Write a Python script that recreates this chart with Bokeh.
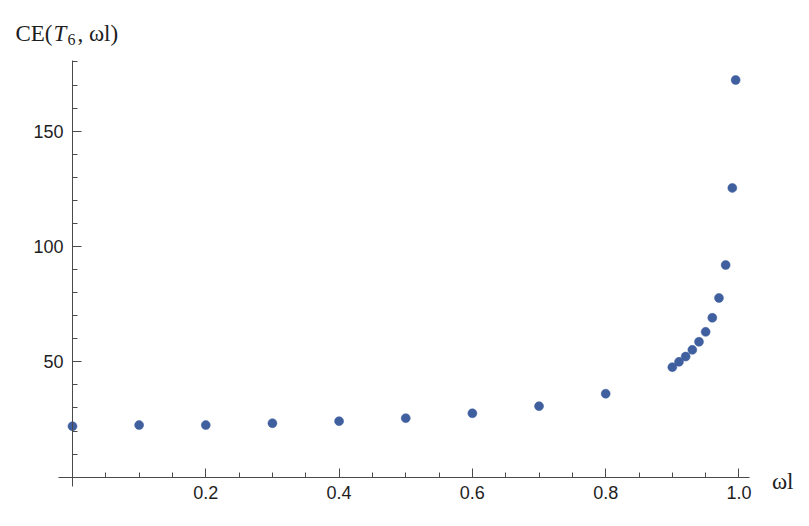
from bokeh.plotting import figure
from bokeh.models import FixedTicker, Label, Range1d
from bokeh.embed import file_html
from bokeh.resources import INLINE

# ---- data ----
omega_l = [0.0, 0.1, 0.2, 0.3, 0.4, 0.5, 0.6, 0.7, 0.8,
           0.9, 0.91, 0.92, 0.93, 0.94, 0.95, 0.96, 0.97, 0.98, 0.99, 0.995]
ce_t6 = [22.1, 22.6, 22.6, 23.4, 24.3, 25.6, 27.7, 30.8, 36.2,
         47.7, 50.0, 52.3, 55.2, 58.7, 63.0, 69.1, 77.7, 92.0, 125.4, 172.2]

x_ticks = [0.2, 0.4, 0.6, 0.8, 1.0]
x_tick_labels = ["0.2", "0.4", "0.6", "0.8", "1.0"]
x_minor_ticks = [0.05, 0.1, 0.15, 0.25, 0.3, 0.35, 0.45, 0.5, 0.55,
                 0.65, 0.7, 0.75, 0.85, 0.9, 0.95]
y_ticks = [50, 100, 150]
y_tick_labels = ["50", "100", "150"]
y_minor_ticks = [10, 20, 30, 40, 60, 70, 80, 90, 110, 120, 130, 140,
                 160, 170, 180]

x_axis_label = "ωl"
y_label_parts = ["CE(", "T", "6", ", ωl)"]

# plot region (axes extents) and the surrounding view
X_AXIS_BOUNDS = (-0.021, 1.0165)
Y_AXIS_BOUNDS = (-3.9, 180.6)
X_VIEW = (-0.1080, 1.0923)
Y_VIEW = (-17.04, 206.66)

POINT_COLOR = "#3f5f9e"
AXIS_COLOR = "#4a4a4a"
LABEL_COLOR = "#1e1e1e"

p = figure(width=800, height=516,
           x_range=Range1d(*X_VIEW), y_range=Range1d(*Y_VIEW),
           output_backend="svg", toolbar_location=None,
           min_border=0, min_border_left=0, min_border_right=0,
           min_border_top=0, min_border_bottom=0)

p.grid.visible = False
p.outline_line_color = None
p.background_fill_color = "white"
p.border_fill_color = "white"

p.xaxis.fixed_location = 0
p.yaxis.fixed_location = 0
p.xaxis.bounds = X_AXIS_BOUNDS
p.yaxis.bounds = Y_AXIS_BOUNDS

p.xaxis.ticker = FixedTicker(ticks=x_ticks, minor_ticks=x_minor_ticks)
p.yaxis.ticker = FixedTicker(ticks=y_ticks, minor_ticks=y_minor_ticks)
p.xaxis.major_label_overrides = dict(zip(x_ticks, x_tick_labels))
p.yaxis.major_label_overrides = dict(zip(y_ticks, y_tick_labels))

for ax in (p.xaxis[0], p.yaxis[0]):
    ax.axis_line_color = AXIS_COLOR
    ax.axis_line_width = 1
    ax.major_tick_line_color = AXIS_COLOR
    ax.minor_tick_line_color = AXIS_COLOR
    ax.major_tick_in = 9
    ax.major_tick_out = 0
    ax.minor_tick_in = 5
    ax.minor_tick_out = 0
    ax.major_label_text_font = "Liberation Sans"
    ax.major_label_text_font_size = "18px"
    ax.major_label_text_color = LABEL_COLOR

p.xaxis.major_label_standoff = 9
p.yaxis.major_label_standoff = 9

p.scatter(omega_l, ce_t6, size=9, fill_color=POINT_COLOR,
          line_color=POINT_COLOR, line_width=0.5)

SERIF = "Liberation Serif"

# x axis label at the right end of the axis
p.add_layout(Label(x=X_AXIS_BOUNDS[1], y=0, x_offset=22, y_offset=-4,
                   text=x_axis_label, text_font=SERIF,
                   text_font_size="23px", text_color=LABEL_COLOR,
                   text_baseline="alphabetic", text_align="left"))

# y axis label at the top-left: CE(T_6, ωl)
base_x = -57
base_y = 27
p.add_layout(Label(x=0, y=Y_AXIS_BOUNDS[1], x_offset=base_x, y_offset=base_y,
                   text=y_label_parts[0], text_font=SERIF,
                   text_font_size="23px", text_color=LABEL_COLOR,
                   text_baseline="alphabetic", text_align="left"))
p.add_layout(Label(x=0, y=Y_AXIS_BOUNDS[1], x_offset=base_x + 38, y_offset=base_y,
                   text=y_label_parts[1], text_font=SERIF,
                   text_font_style="italic",
                   text_font_size="23px", text_color=LABEL_COLOR,
                   text_baseline="alphabetic", text_align="left"))
p.add_layout(Label(x=0, y=Y_AXIS_BOUNDS[1], x_offset=base_x + 52, y_offset=base_y - 6,
                   text=y_label_parts[2], text_font=SERIF,
                   text_font_size="16px", text_color=LABEL_COLOR,
                   text_baseline="alphabetic", text_align="left"))
p.add_layout(Label(x=0, y=Y_AXIS_BOUNDS[1], x_offset=base_x + 62, y_offset=base_y,
                   text=y_label_parts[3], text_font=SERIF,
                   text_font_size="23px", text_color=LABEL_COLOR,
                   text_baseline="alphabetic", text_align="left"))

open("out.html", "w").write(file_html(p, INLINE))
